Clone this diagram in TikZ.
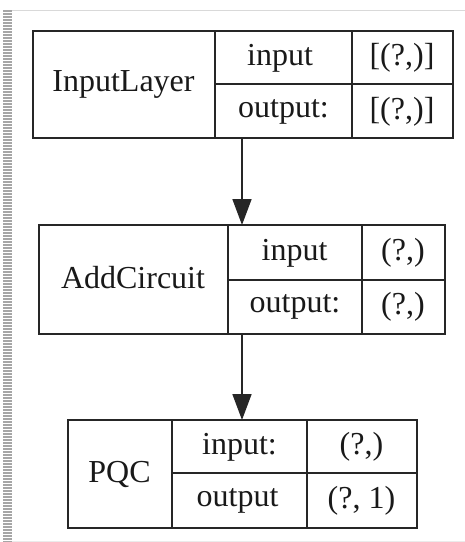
\documentclass[tikz,border=0pt]{standalone}
\usepackage{fontspec}
\setmainfont{Liberation Serif}
\usetikzlibrary{arrows.meta}
\begin{document}
\begin{tikzpicture}[x=1pt,y=-1pt,
  box/.style={draw=black!85, line width=1.7pt, rectangle, inner sep=0pt, anchor=north west},
  txt/.style={font=\fontsize{32}{38}\selectfont, inner sep=0pt, text=black!90},
  div/.style={draw=black!85, line width=1.7pt},
  conn/.style={draw=black!85, line width=1.7pt, -{Triangle[length=26pt,width=19pt]}, shorten >=-1pt}
]
\useasboundingbox (0,0) rectangle (465,542);
\fill[white] (0,0) rectangle (465,542);
% screenshot frame
\draw[black!35, line width=9pt, dash pattern=on 1.5pt off 1.5pt] (7.5,10) -- (7.5,542);
\draw[black!15, line width=1pt] (12,10) -- (465,10);
\draw[black!8, line width=0.8pt] (12,541) -- (465,541);
\coordinate (ax) at (242,0);

% Box 1
\node[box, minimum width=420pt, minimum height=107pt] (b1) at (32,30) {};
\draw[div] (215,30) -- (215,137);
\draw[div] (352,30) -- (352,137);
\draw[div] (215,84) -- (452,84);
\node[txt] (n1) at (123.5,84) {InputLayer};
\node[txt] (i1) at (280,58) {input};
\node[txt] (o1) at (283.5,112) {output:};
\node[txt] (iv1) at (402,58) {[(?,)]};
\node[txt] (ov1) at (402,112) {[(?,)]};

% Box 2
\node[box, minimum width=406pt, minimum height=109pt] (b2) at (38,224) {};
\draw[div] (228,224) -- (228,333);
\draw[div] (362,224) -- (362,333);
\draw[div] (228,280) -- (444,280);
\node[txt] (n2) at (133,278) {AddCircuit};
\node[txt] (i2) at (294.5,253) {input};
\node[txt] (o2) at (295,307) {output:};
\node[txt] (iv2) at (403,253) {(?,)};
\node[txt] (ov2) at (403,307) {(?,)};

% Box 3
\node[box, minimum width=349pt, minimum height=108pt] (b3) at (67,419) {};
\draw[div] (172,419) -- (172,527);
\draw[div] (307,419) -- (307,527);
\draw[div] (172,473) -- (416,473);
\node[txt] (n3) at (119.5,474) {PQC};
\node[txt] (i3) at (239.5,447) {input:};
\node[txt] (o3) at (237.5,501) {output};
\node[txt] (iv3) at (361.5,447) {(?,)};
\node[txt] (ov3) at (361.5,501) {(?, 1)};

% connectors
\draw[conn] (b1.south -| ax) -- (b2.north -| ax);
\draw[conn] (b2.south -| ax) -- (b3.north -| ax);
\end{tikzpicture}
\end{document}
